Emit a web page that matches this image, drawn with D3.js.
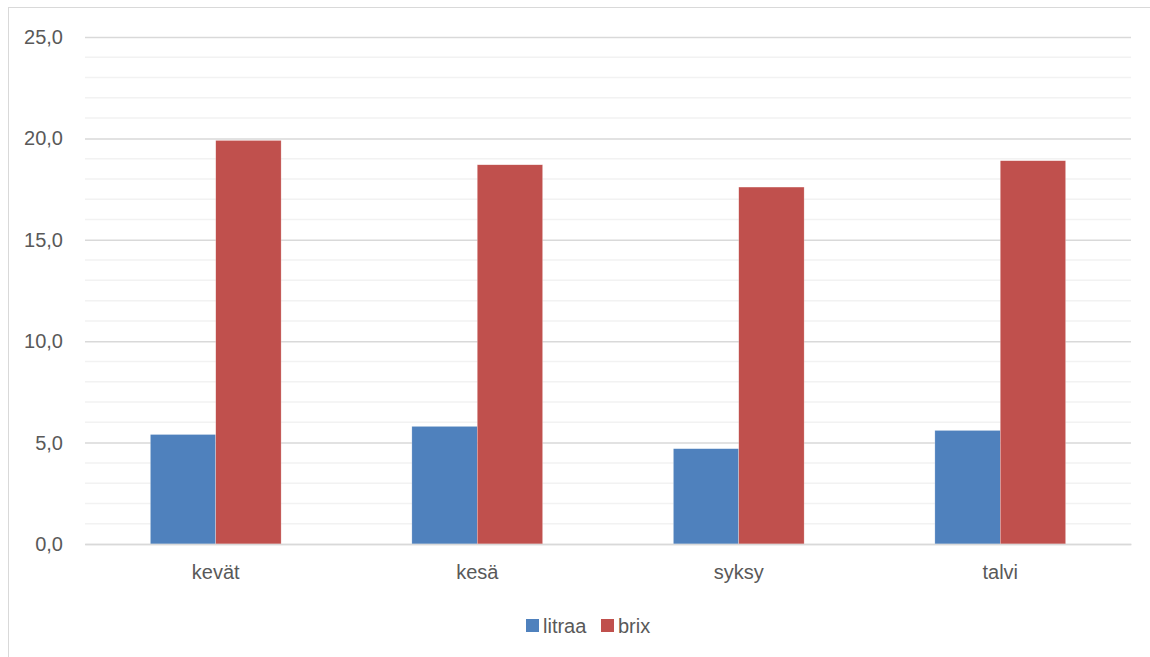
<!DOCTYPE html>
<meta charset="utf-8">
<style>
  body { margin: 0; background: #fff; }
  text { font-family: 'Liberation Sans', Arial, sans-serif; fill: #595959; }
</style>
<svg width="1150" height="657"></svg>
<script src="https://d3js.org/d3.v7.min.js"></script>
<script>
var categories = ["kevät", "kesä", "syksy", "talvi"];
var seriesNames = ["litraa", "brix"];
var litraa = [5.4, 5.8, 4.7, 5.6];
var brix = [19.9, 18.7, 17.6, 18.9];
var yTicks = [0, 5, 10, 15, 20, 25];
var colors = ["#4F81BD", "#C0504D"];

var svg = d3.select("svg"),
    margin = { top: 37, right: 19, bottom: 113, left: 85 },
    width = +svg.attr("width") - margin.left - margin.right,
    height = +svg.attr("height") - margin.top - margin.bottom;

// chart border
svg.append("rect")
    .attr("x", 8.5).attr("y", 7.5)
    .attr("width", 1160).attr("height", 670)
    .attr("fill", "none").attr("stroke", "#d9d9d9");

var g = svg.append("g").attr("transform", "translate(" + margin.left + "," + margin.top + ")");

var x = d3.scaleBand().domain(categories).range([0, width]);
var y = d3.scaleLinear().domain([0, 25]).range([height, 0]);

// minor grid
g.append("g").selectAll("line")
    .data(d3.range(0, 26, 1).filter(function (v) { return v % 5 !== 0; }))
    .join("line")
    .attr("x1", 0).attr("x2", width)
    .attr("y1", function (d) { return y(d); }).attr("y2", function (d) { return y(d); })
    .attr("stroke", "#f2f2f2").attr("stroke-width", 1.5);

// major grid + y labels
var yAxis = g.append("g").call(d3.axisLeft(y).tickValues(yTicks)
    .tickSize(-width).tickPadding(22)
    .tickFormat(function (d) { return d3.format(".1f")(d).replace(".", ","); }));
yAxis.select(".domain").remove();
yAxis.selectAll(".tick line").attr("stroke", "#d9d9d9").attr("stroke-width", 1.5);
yAxis.selectAll(".tick text").style("font-size", "20px").attr("fill", "#595959");

var data = categories.map(function (c, i) { return { cat: c, vals: [litraa[i], brix[i]] }; });
var bw = x.bandwidth() / 4;

g.append("g").selectAll("g")
    .data(data)
    .join("g")
    .attr("transform", function (d) { return "translate(" + (x(d.cat) + x.bandwidth() / 4) + ",0)"; })
    .selectAll("rect")
    .data(function (d) { return d.vals; })
    .join("rect")
    .attr("x", function (d, i) { return i * bw; })
    .attr("width", bw)
    .attr("y", function (d) { return y(d); })
    .attr("height", function (d) { return y(0) - y(d); })
    .attr("fill", function (d, i) { return colors[i]; })
    .attr("stroke", "#fff").attr("stroke-width", 0.5).attr("stroke-opacity", 0.5);

// x axis
var xAxis = g.append("g").attr("transform", "translate(0," + height + ")")
    .call(d3.axisBottom(x).tickSize(0).tickPadding(21));
xAxis.select(".domain").attr("stroke", "#d9d9d9").attr("stroke-width", 1.5);
xAxis.selectAll(".tick text").style("font-size", "20px").attr("fill", "#595959");

// legend
var legend = svg.append("g").attr("transform", "translate(526,619)");
var li = legend.selectAll("g").data(seriesNames).join("g")
    .attr("transform", function (d, i) { return "translate(" + (i * 75) + ",0)"; });
li.append("rect").attr("width", 13).attr("height", 13)
    .attr("fill", function (d, i) { return colors[i]; });
li.append("text").attr("x", 17).attr("y", 14).style("font-size", "20px").text(function (d) { return d; });
</script>
